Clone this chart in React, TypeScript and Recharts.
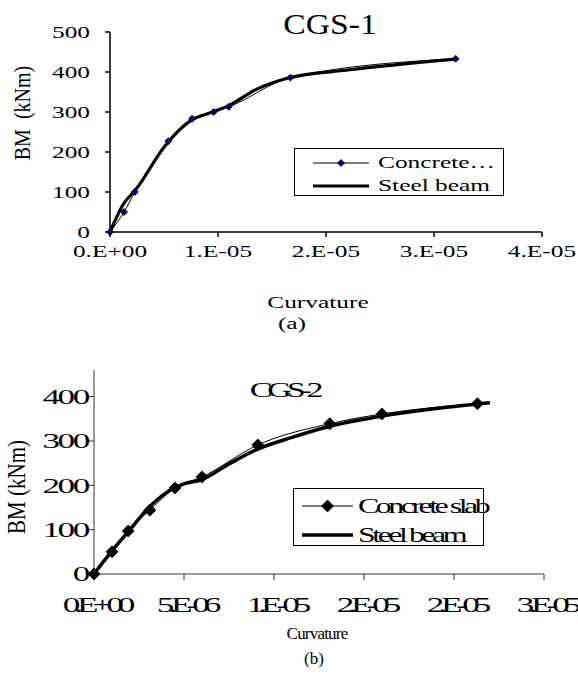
import { LineChart, Line, XAxis, YAxis, Legend } from "recharts";

const SERIF = '"Liberation Serif", "Times New Roman", serif';

// (a) CGS-1
const cgs1ConcreteX = [0, 1.3e-6, 2.3e-6, 5.4e-6, 7.6e-6, 9.6e-6, 1.1e-5, 1.67e-5, 3.2e-5];
const cgs1ConcreteY = [0, 50, 100, 227, 283, 300, 313, 386, 433];
const cgs1SteelX = [0, 1.2e-6, 2.5e-6, 5e-6, 7.5e-6, 9.5e-6, 1.1e-5, 1.35e-5, 1.65e-5, 2.2e-5, 3.2e-5];
const cgs1SteelY = [0, 68, 110, 212, 279, 300, 316, 356, 385, 405, 432];
const cgs1XTicks = [0, 1e-5, 2e-5, 3e-5, 4e-5];
const cgs1XLabels = ["0.E+00", "1.E-05", "2.E-05", "3.E-05", "4.E-05"];
const cgs1YTicks = [0, 100, 200, 300, 400, 500];

// (b) CGS-2
const cgs2ConcreteX = [0, 1.0e-6, 1.9e-6, 3.1e-6, 4.5e-6, 6.0e-6, 9.1e-6, 1.31e-5, 1.6e-5, 2.13e-5];
const cgs2ConcreteY = [0, 50, 97, 144, 194, 219, 291, 339, 361, 384];
const cgs2SteelX = [0, 1e-6, 2e-6, 3e-6, 4e-6, 5e-6, 6e-6, 7.5e-6, 9e-6, 1.1e-5, 1.3e-5, 1.6e-5, 1.9e-5, 2.2e-5];
const cgs2SteelY = [0, 52, 100, 148, 183, 203, 213, 248, 280, 308, 332, 356, 373, 386];
const cgs2XTicks = [0, 5e-6, 1e-5, 1.5e-5, 2e-5, 2.5e-5];
const cgs2XLabels = ["0.E+00", "5.E-06", "1.E-05", "2.E-05", "2.E-05", "3.E-05"];
const cgs2YTicks = [0, 100, 200, 300, 400];

const toPts = (xs: number[], ys: number[]) => xs.map((x, i) => ({ x, y: ys[i] }));

type TickOpts = {
  labels?: string[];
  anchor: "start" | "middle" | "end";
  dx: number;
  dy: number;
  size: number;
  sx: number;
  ls?: number;
};

function makeTick(o: TickOpts) {
  return (props: any) => {
    const { x, y, index, payload } = props;
    const label = o.labels ? o.labels[index] : String(payload.value);
    return (
      <g transform={`translate(${x + o.dx},${y + o.dy}) scale(${o.sx},1)`}>
        <text
          textAnchor={o.anchor}
          dominantBaseline="central"
          fontFamily={SERIF}
          fontSize={o.size}
          letterSpacing={o.ls ?? 0}
          fill="#000"
        >
          {label}
        </text>
      </g>
    );
  };
}

function diamond(r: number, fill: string, stroke: string) {
  return (props: any) => {
    const { cx, cy, index } = props;
    return (
      <path
        key={index}
        d={`M${cx},${cy - r}L${cx + r},${cy}L${cx},${cy + r}L${cx - r},${cy}Z`}
        fill={fill}
        stroke={stroke}
        strokeWidth={0.8}
      />
    );
  };
}

function Txt(p: {
  x: number;
  y: number;
  size: number;
  sx?: number;
  ls?: number;
  rotate?: boolean;
  children: any;
}) {
  return (
    <div
      style={{
        position: "absolute",
        left: p.x,
        top: p.y,
        fontFamily: SERIF,
        fontSize: p.size,
        lineHeight: 1,
        letterSpacing: p.ls ?? 0,
        whiteSpace: "pre",
        color: "#000",
        transform: `translate(-50%,-50%) scaleX(${p.sx ?? 1})${p.rotate ? " rotate(-90deg)" : ""}`,
      }}
    >
      {p.children}
    </div>
  );
}

type LegendStyle = {
  w: number;
  h: number;
  rows: number[];
  lineX: number;
  lineW: number;
  textX: number;
  size: number;
  sx: number;
  ls: number;
  r: number;
  markFill: string;
  steelW: number;
};

function makeLegend(s: LegendStyle) {
  return (props: any) => {
    // concrete (with marker) first, steel beam second
    const items = (props.payload || [])
      .slice()
      .sort((a: any, b: any) => (a.value === "Steel beam" ? 1 : 0) - (b.value === "Steel beam" ? 1 : 0));
    return (
      <div
        style={{
          position: "relative",
          width: s.w,
          height: s.h,
          boxSizing: "border-box",
          border: "1px solid #000",
          background: "#fff",
        }}
      >
        {items.map((it: any, i: number) => {
          const marker = it.value !== "Steel beam";
          return (
            <div key={it.value} style={{ position: "absolute", left: 0, top: s.rows[i] - 12, height: 24, width: s.w }}>
              <svg width={s.w} height={24} style={{ position: "absolute", left: 0, top: 0 }}>
                <line
                  x1={s.lineX}
                  x2={s.lineX + s.lineW}
                  y1={12}
                  y2={12}
                  stroke="#000"
                  strokeWidth={marker ? 1 : s.steelW}
                />
                {marker && (
                  <path
                    d={`M${s.lineX + s.lineW / 2},${12 - s.r}l${s.r},${s.r}l${-s.r},${s.r}l${-s.r},${-s.r}Z`}
                    fill={s.markFill}
                    stroke="#000"
                    strokeWidth={0.8}
                  />
                )}
              </svg>
              <span
                style={{
                  position: "absolute",
                  left: s.textX,
                  top: 12,
                  fontFamily: SERIF,
                  fontSize: s.size,
                  lineHeight: 1,
                  letterSpacing: s.ls,
                  whiteSpace: "pre",
                  color: "#000",
                  transformOrigin: "left center",
                  transform: `translateY(-50%) scaleX(${s.sx})`,
                }}
              >
                {it.value}
              </span>
            </div>
          );
        })}
      </div>
    );
  };
}

export default function App() {
  return (
    <div style={{ position: "absolute", left: 0, top: 0, width: 578, height: 684, background: "#fff" }}>
      <div style={{ position: "absolute", left: 0, top: 0 }}>
        <LineChart width={578} height={340} margin={{ top: 32, right: 36, bottom: 78, left: 0 }}>
          <XAxis
            type="number"
            dataKey="x"
            domain={[0, 4e-5]}
            ticks={cgs1XTicks}
            interval={0}
            height={30}
            tickSize={5}
            stroke="#000"
            strokeWidth={1.5}
            tick={makeTick({ labels: cgs1XLabels, anchor: "middle", dx: 0, dy: 12, size: 17.5, sx: 1.45 })}
          />
          <YAxis
            type="number"
            dataKey="y"
            domain={[0, 500]}
            ticks={cgs1YTicks}
            interval={0}
            width={110}
            tickSize={5}
            stroke="#000"
            strokeWidth={1.5}
            tick={makeTick({ anchor: "end", dx: -13, dy: 0, size: 17.5, sx: 1.45 })}
          />
          <Line
            data={toPts(cgs1SteelX, cgs1SteelY)}
            dataKey="y"
            name="Steel beam"
            type="monotone"
            stroke="#000"
            strokeWidth={3.2}
            dot={false}
            activeDot={false}
            isAnimationActive={false}
          />
          <Line
            data={toPts(cgs1ConcreteX, cgs1ConcreteY)}
            dataKey="y"
            name="Concrete…"
            type="monotone"
            stroke="#000"
            strokeWidth={1}
            dot={diamond(3.5, "#000080", "#000")}
            activeDot={false}
            isAnimationActive={false}
          />
          <Legend
            layout="horizontal"
            verticalAlign="middle"
            align="center"
            wrapperStyle={{ left: 294, top: 148, width: 210, height: 48 }}
            content={makeLegend({
              w: 210,
              h: 48,
              rows: [14, 37],
              lineX: 18,
              lineW: 56,
              textX: 83,
              size: 17.5,
              sx: 1.45,
              ls: 0,
              r: 3.5,
              markFill: "#000080",
              steelW: 3.2,
            })}
          />
        </LineChart>
      </div>

      <div style={{ position: "absolute", left: 0, top: 340 }}>
        <LineChart width={578} height={344} margin={{ top: 30, right: 34, bottom: 70, left: 0 }}>
          <XAxis
            type="number"
            dataKey="x"
            domain={[0, 2.5e-5]}
            ticks={cgs2XTicks}
            interval={0}
            height={40}
            tickSize={6}
            stroke="#333"
            strokeWidth={1}
            tick={makeTick({ labels: cgs2XLabels, anchor: "middle", dx: 2, dy: 23, size: 22, sx: 1.6, ls: -3.8 })}
          />
          <YAxis
            type="number"
            dataKey="y"
            domain={[0, 460]}
            ticks={cgs2YTicks}
            interval={0}
            width={94}
            tickSize={6}
            stroke="#333"
            strokeWidth={1}
            tick={makeTick({ anchor: "end", dx: 2, dy: 0, size: 22, sx: 1.6, ls: -1.5 })}
          />
          <Line
            data={toPts(cgs2SteelX, cgs2SteelY)}
            dataKey="y"
            name="Steel beam"
            type="monotone"
            stroke="#000"
            strokeWidth={3.5}
            dot={false}
            activeDot={false}
            isAnimationActive={false}
          />
          <Line
            data={toPts(cgs2ConcreteX, cgs2ConcreteY)}
            dataKey="y"
            name="Concrete slab"
            type="monotone"
            stroke="#000"
            strokeWidth={1}
            dot={diamond(6, "#000", "#000")}
            activeDot={false}
            isAnimationActive={false}
          />
          <Legend
            layout="horizontal"
            verticalAlign="middle"
            align="center"
            wrapperStyle={{ left: 293, top: 148, width: 191, height: 58 }}
            content={makeLegend({
              w: 191,
              h: 58,
              rows: [17, 46],
              lineX: 8,
              lineW: 51,
              textX: 64,
              size: 22,
              sx: 1.45,
              ls: -2.4,
              r: 6,
              markFill: "#000",
              steelW: 3.5,
            })}
          />
        </LineChart>
      </div>

      <Txt x={330} y={24} size={29} sx={1.16}>CGS-1</Txt>
      <Txt x={22} y={113} size={20} sx={1.2} rotate>BM  (kNm)</Txt>
      <Txt x={318} y={303} size={17.5} sx={1.45}>Curvature</Txt>
      <Txt x={292} y={324} size={17.5} sx={1.45}>(a)</Txt>

      <Txt x={284} y={390} size={22} sx={1.55} ls={-3.4}>CGS-2</Txt>
      <Txt x={18} y={487} size={21} sx={1.15} rotate>BM (kNm)</Txt>
      <Txt x={317} y={633} size={17} ls={-0.8}>Curvature</Txt>
      <Txt x={314} y={658} size={17}>(b)</Txt>
    </div>
  );
}
